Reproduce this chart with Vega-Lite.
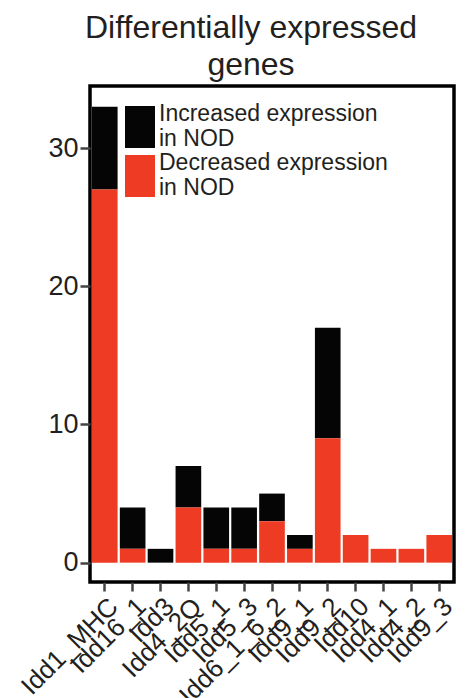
{
  "$schema": "https://vega.github.io/schema/vega-lite/v6.json",
  "width": 364,
  "height": 496,
  "autosize": {"type": "none"},
  "padding": {"left": 90, "top": 86, "right": 12, "bottom": 116},
  "background": "white",
  "title": {
    "text": ["Differentially expressed", "genes"],
    "font": "Liberation Sans",
    "fontSize": 32,
    "fontWeight": "normal",
    "color": "#231f20",
    "lineHeight": 37,
    "offset": 4,
    "dx": -21,
    "anchor": "middle"
  },
  "data": {
    "values": [
      {"region": "Idd1_MHC", "status": "Increased expression in NOD", "genes": 6},
      {"region": "Idd1_MHC", "status": "Decreased expression in NOD", "genes": 27},
      {"region": "Idd16_1", "status": "Increased expression in NOD", "genes": 3},
      {"region": "Idd16_1", "status": "Decreased expression in NOD", "genes": 1},
      {"region": "Idd3", "status": "Increased expression in NOD", "genes": 1},
      {"region": "Idd3", "status": "Decreased expression in NOD", "genes": 0},
      {"region": "Idd4_2Q", "status": "Increased expression in NOD", "genes": 3},
      {"region": "Idd4_2Q", "status": "Decreased expression in NOD", "genes": 4},
      {"region": "Idd5_1", "status": "Increased expression in NOD", "genes": 3},
      {"region": "Idd5_1", "status": "Decreased expression in NOD", "genes": 1},
      {"region": "Idd5_3", "status": "Increased expression in NOD", "genes": 3},
      {"region": "Idd5_3", "status": "Decreased expression in NOD", "genes": 1},
      {"region": "Idd6_1_6_2", "status": "Increased expression in NOD", "genes": 2},
      {"region": "Idd6_1_6_2", "status": "Decreased expression in NOD", "genes": 3},
      {"region": "Idd9_1", "status": "Increased expression in NOD", "genes": 1},
      {"region": "Idd9_1", "status": "Decreased expression in NOD", "genes": 1},
      {"region": "Idd9_2", "status": "Increased expression in NOD", "genes": 8},
      {"region": "Idd9_2", "status": "Decreased expression in NOD", "genes": 9},
      {"region": "Idd10", "status": "Increased expression in NOD", "genes": 0},
      {"region": "Idd10", "status": "Decreased expression in NOD", "genes": 2},
      {"region": "Idd4_1", "status": "Increased expression in NOD", "genes": 0},
      {"region": "Idd4_1", "status": "Decreased expression in NOD", "genes": 1},
      {"region": "Idd4_2", "status": "Increased expression in NOD", "genes": 0},
      {"region": "Idd4_2", "status": "Decreased expression in NOD", "genes": 1},
      {"region": "Idd9_3", "status": "Increased expression in NOD", "genes": 0},
      {"region": "Idd9_3", "status": "Decreased expression in NOD", "genes": 2}
    ]
  },
  "mark": {"type": "bar"},
  "encoding": {
    "x": {
      "field": "region",
      "type": "nominal",
      "sort": null,
      "scale": {"paddingInner": 0.08, "paddingOuter": 0.07},
      "axis": {
        "title": null,
        "labelAngle": -45,
        "labelFont": "Liberation Sans",
        "labelFontSize": 26,
        "labelColor": "#231f20",
        "labelOverlap": false,
        "labelBound": false,
        "labelPadding": 2,
        "domain": false,
        "tickSize": 9,
        "tickWidth": 2.5,
        "tickColor": "#444444"
      }
    },
    "y": {
      "field": "genes",
      "type": "quantitative",
      "stack": "zero",
      "scale": {"domain": [-1.4, 34.5], "nice": false, "zero": false},
      "axis": {
        "title": null,
        "values": [0, 10, 20, 30],
        "grid": false,
        "domain": false,
        "labelFont": "Liberation Sans",
        "labelFontSize": 27,
        "labelColor": "#231f20",
        "labelPadding": 2,
        "tickSize": 10,
        "tickWidth": 2.5,
        "tickColor": "#444444"
      }
    },
    "color": {
      "field": "status",
      "type": "nominal",
      "scale": {
        "domain": ["Increased expression in NOD", "Decreased expression in NOD"],
        "range": ["#050505", "#ee3b24"]
      },
      "legend": {
        "title": null,
        "orient": "none",
        "legendX": 35,
        "legendY": 26,
        "padding": 0,
        "symbolType": "M-1,-1.4H1V1.4H-1Z",
        "symbolSize": 900,
        "symbolStrokeWidth": 0,
        "symbolOpacity": 1,
        "labelFont": "Liberation Sans",
        "labelFontSize": 23,
        "labelColor": "#231f20",
        "labelLineHeight": 27,
        "labelBaseline": "line-bottom",
        "labelOffset": 4,
        "labelLimit": 400,
        "rowPadding": 1,
        "labelExpr": "datum.label == 'Increased expression in NOD' ? ['Increased expression', '\u00a0in NOD'] : ['Decreased expression', 'in NOD']"
      }
    },
    "order": {"field": "status", "sort": "ascending"}
  },
  "config": {
    "view": {"stroke": "black", "strokeWidth": 3.5}
  }
}
